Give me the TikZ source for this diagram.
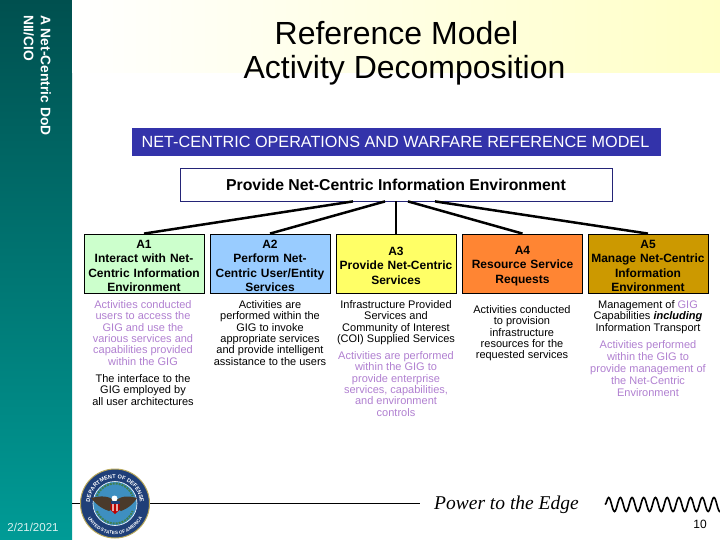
\documentclass[tikz,border=0pt]{standalone}
\usepackage{fontspec}
\setmainfont{Liberation Sans}
\newfontfamily\edgefont{Liberation Serif}
\usepackage{tikz}
\usetikzlibrary{arrows.meta, positioning, calc, decorations.pathmorphing, decorations.text}
\definecolor{sidedark}{HTML}{00504F}
\definecolor{sidelight}{HTML}{009B96}
\definecolor{barblue}{HTML}{3333AA}
\definecolor{lilac}{HTML}{B07FD0}
\definecolor{boxgreen}{HTML}{CCFFCC}
\definecolor{boxblue}{HTML}{99CCFF}
\definecolor{boxyellow}{HTML}{FFFF66}
\definecolor{boxorange}{HTML}{FF8533}
\definecolor{boxgold}{HTML}{CC9900}
\definecolor{sealblue}{HTML}{1F3F78}
\definecolor{sealsky}{HTML}{3E8FC0}
\definecolor{sealgold}{HTML}{B9A85A}
\definecolor{sealwing}{HTML}{4A3A2A}
\definecolor{sealgreen}{HTML}{3F7F4F}

\begin{document}
\begin{tikzpicture}[
  x=1pt, y=-1pt,
  activity/.style={draw=black, line width=0.8pt, minimum width=120pt, minimum height=59pt, inner sep=0pt, align=center, text width=118pt, font=\fontsize{12}{14.4}\selectfont\bfseries},
  descr/.style={align=center, inner sep=0pt, anchor=north, font=\fontsize{11}{11.3}\selectfont},
  lilacdescr/.style={descr, text=lilac},
  sidetext/.style={rotate=-90, anchor=north west, inner sep=0pt, text=white, font=\fontsize{13.8}{14}\selectfont\bfseries},
  link/.style={line width=2.5pt}
]
\useasboundingbox (0,0) rectangle (720,540);

% Backgrounds
\shade[top color=sidedark, bottom color=sidelight] (0,0) rectangle (72,540);
\shade[left color=white, right color=yellow!22] (72,0) rectangle (720,73);

% Sidebar
\node[sidetext] (sideone) at (51,15) {A Net-Centric DoD};
\node[sidetext] (sidetwo) at (34,15) {NII/CIO};
\node[text=white!85!sidelight, font=\fontsize{11.5}{14}\selectfont, inner sep=0pt] (date) at (33,527) {2/21/2021};

% Title
\node[align=center, inner sep=0pt, font=\fontsize{32}{34.2}\selectfont] (title) at (404.5,53) {Reference Model\hspace*{16pt}\\Activity Decomposition};
\node[fill=barblue, text=white, minimum width=529pt, minimum height=28pt, inner sep=0pt, font=\fontsize{16.2}{20}\selectfont] (bar) at (396.5,142) {NET-CENTRIC OPERATIONS AND WARFARE REFERENCE MODEL\hspace*{2pt}};
\node[draw=barblue!70!black, fill=white, line width=0.8pt, minimum width=432pt, minimum height=33pt, inner sep=0pt, font=\fontsize{15.8}{18}\selectfont\bfseries] (provide) at (396,184.5) {Provide Net-Centric Information Environment};

% Activities
\node[activity, fill=boxgreen] (aone) at (144,263.5) {\rule{0pt}{13pt}A1\\Interact with Net-\\Centric Information\\Environment};
\node[activity, fill=boxblue] (atwo) at (270,263.5) {\rule{0pt}{13pt}A2\\Perform Net-\\Centric User/Entity\\Services};
\node[activity, fill=boxyellow] (athree) at (396,263.5) {\rule{0pt}{13pt}A3\\Provide Net-Centric\\Services};
\node[activity, fill=boxorange] (afour) at (522.5,263.5) {\rule{0pt}{13pt}A4\\Resource Service\\Requests};
\node[activity, fill=boxgold] (afive) at (648,263.5) {\rule{0pt}{13pt}A5\\Manage Net-Centric\\Information\\Environment};

% Links
\draw[link] ([xshift=-43pt]provide.south) -- (aone.north);
\draw[link] ([xshift=-11pt]provide.south) -- (atwo.north);
\draw[link] (provide.south) -- (athree.north);
\draw[link] ([xshift=12pt]provide.south) -- (afour.north);
\draw[link] ([xshift=39pt]provide.south) -- (afive.north);

% Descriptions
\node[lilacdescr] (aonea) at (143,300.5) {Activities conducted\\users to access the\\GIG and use the\\various services and\\capabilities provided\\within the GIG};
\node[descr] (aoneb) at (143,374.5) {The interface to the\\GIG employed by\\all user architectures};
\node[descr] (atwoa) at (270,300.5) {Activities are\\performed within the\\GIG to invoke\\appropriate services\\and provide intelligent\\assistance to the users};
\node[descr] (athreea) at (396,300.5) {Infrastructure Provided\\Services and\\Community of Interest\\(COI) Supplied Services};
\node[lilacdescr] (athreeb) at (396,351.5) {Activities are performed\\within the GIG to\\provide enterprise\\services, capabilities,\\and environment\\controls};
\node[descr] (afoura) at (522,305.5) {Activities conducted\\to provision\\infrastructure\\resources for the\\requested services};
\node[descr] (afivea) at (648,300.5) {Management of \textcolor{lilac}{GIG}\\Capabilities \textbf{\itshape including}\\Information Transport};
\node[lilacdescr, font=\fontsize{11}{12}\selectfont] (afiveb) at (648,340.5) {Activities performed\\within the GIG to\\provide management of\\the Net-Centric\\Environment};

% Footer
\coordinate (ruleleft) at (72,503.5);
\coordinate (ruleright) at (420,503.5);
\draw[line width=1.5pt] (ruleleft) -- (ruleright);

% Seal
\node[circle, fill=sealblue, draw=sealgold, line width=1pt, minimum size=69pt, inner sep=0pt] (seal) at (115,503.5) {};
\node[circle, fill=sealsky, draw=white, line width=0.6pt, minimum size=44pt, inner sep=0pt] (sealin) at (seal) {};
\path[postaction={decorate}, decoration={text along path, text align=center, text={|\fontsize{5.6}{6}\selectfont\bfseries\color{white}|DEPARTMENT OF DEFENSE}}] (90,503.5) arc[start angle=180, end angle=360, radius=25];
\path[postaction={decorate}, decoration={text along path, text align=center, text={|\fontsize{4.6}{5}\selectfont\bfseries\color{white}|UNITED STATES OF AMERICA}}] (84,503.5) arc[start angle=180, end angle=0, radius=31];
% wreath, eagle and shield
\draw[sealgreen, line width=2pt, dash pattern=on 2pt off 1pt] (97,496) arc[start angle=200, end angle=340, radius=19];
\draw[sealgreen, line width=2pt, dash pattern=on 2pt off 1pt] (97,511) arc[start angle=160, end angle=20, radius=19];
\fill[sealwing] (115,501) .. controls (108,495) and (100,496) .. (91,498) .. controls (95,503) and (100,508) .. (109,511) -- (115,507) -- cycle;
\fill[sealwing] (115,501) .. controls (122,495) and (130,496) .. (137,498) .. controls (134,503) and (129,508) .. (121,511) -- (115,507) -- cycle;
\fill[white] (114.5,498.5) circle[radius=3pt];
\fill[red!75!black] (110.5,502) -- (119.5,502) -- (119.5,510) -- (115,514) -- (110.5,510) -- cycle;
\fill[white] (112.3,503) rectangle (113.5,511) (116.3,503) rectangle (117.5,511);
\fill[sealblue] (110.5,501) rectangle (119.5,503.5);

\node[inner sep=0pt, font=\fontsize{19.5}{22}\edgefont\itshape] (edge) at (506.5,505) {Power to the Edge};
\coordinate (waveleft) at (605,504.5);
\coordinate (waveright) at (732,504.5);
\draw[line width=1.6pt, decorate, decoration={snake, segment length=11.7pt, amplitude=7pt}] (waveleft) -- (waveright);
\node[inner sep=0pt, font=\fontsize{12}{14}\selectfont] (pagenum) at (700,524) {10};
\end{tikzpicture}
\end{document}
